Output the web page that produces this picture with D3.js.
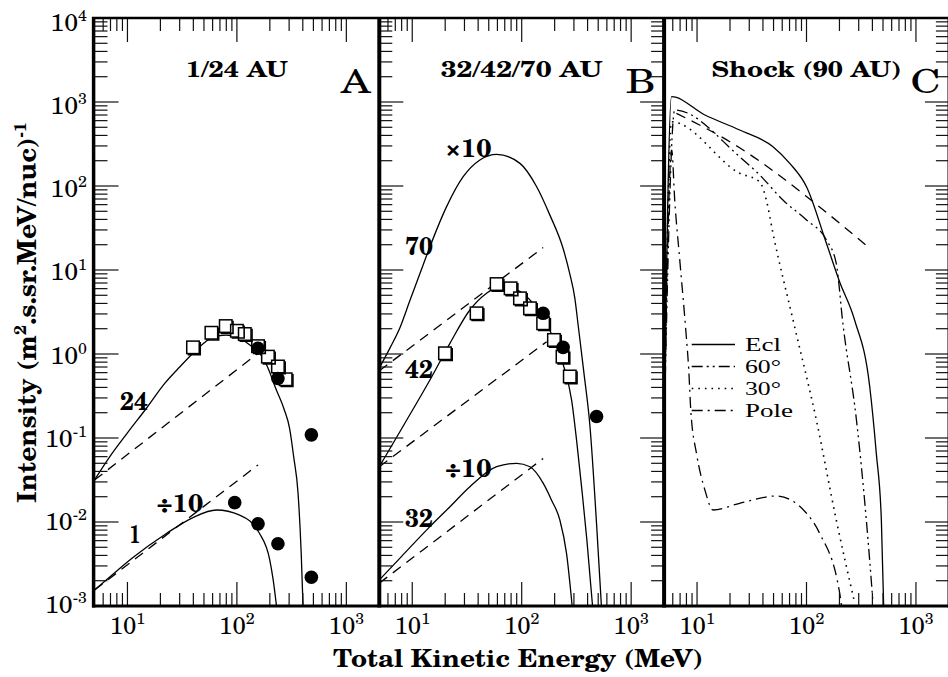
<!DOCTYPE html>
<html><head><meta charset="utf-8">
<script src="https://cdn.jsdelivr.net/npm/d3@7"></script>
<style>body{margin:0;background:#fff}</style>
</head><body>
<svg id="c" width="948" height="677"></svg>
<script>
// ---------------- data ----------------
const yTickExps = [-3,-2,-1,0,1,2,3,4];
const xTickExps = [1,2,3];
const panelTitles = ["1/24 AU","32/42/70 AU","Shock (90 AU)"];
const panelLetters = ["A","B","C"];
const legendLabels = ["Ecl","60°","30°","Pole"];

// Panel A (1 AU and 24 AU)
const a24Curve = [[5,0.0316],[6.9,0.06],[10,0.115],[14.9,0.226],[22,0.45],[30,0.7],[39.7,1.02],[50,1.35],[60.6,1.6],[80,1.68],[106,1.54],[140,1.2],[156,1.08],[186,0.75],[230,0.37],[270,0.22],[303,0.13],[330,0.06],[362,0.022],[387,0.0042],[402,0.001]];
const a24Ref = [[5,0.0316],[156,1.02]];
const a1Curve = [[5,0.00155],[7.94,0.0026],[11.3,0.0038],[22.7,0.0073],[39.7,0.0113],[65,0.0139],[106,0.0121],[161,0.0073],[200,0.0035],[215,0.002],[230,0.001]];
const a1Ref = [[5,0.00155],[156,0.0478]];
const aSquares = [[39.7,1.20],[58.5,1.79],[79.1,2.15],[100,1.89],[118,1.73],[156,1.24],[192,0.93],[237,0.71],[279,0.50]];
const aCircles = [[156,1.17],[237,0.51],[479,0.109],[95.5,0.017],[156,0.0095],[237,0.0055],[479,0.0022]];

// Panel B (32, 42, 70 AU)
const b70Curve = [[5,0.68],[6.3,1.2],[7.7,2.04],[9.5,4.3],[11.8,9.2],[14.5,18.9],[20.6,56.8],[29.2,129],[41.5,204],[59,238],[96.4,186],[137,98],[181,45],[239,18],[275,9],[306,4.6],[328,2.2],[370,0.6],[420,0.14],[483,0.0095],[535,0.001]];
const b70Ref = [[5,0.63],[157,18.5]];
const b42Curve = [[5,0.0455],[8.3,0.14],[14.5,0.49],[22.1,1.34],[33.6,3.34],[47.8,5.3],[63.1,6.3],[89.8,5.8],[127,4.0],[169,2.32],[208,1.22],[248,0.645],[286,0.28],[317,0.095],[355,0.024],[394,0.0061],[424,0.002],[444,0.001]];
const b42Ref = [[5,0.0455],[169,1.40]];
const b32Curve = [[5,0.00204],[8,0.0039],[14.5,0.0088],[22,0.0151],[33.6,0.0263],[59,0.0455],[89.8,0.050],[119,0.0455],[157,0.029],[187,0.0183],[223,0.0106],[257,0.0042],[289,0.001]];
const b32Ref = [[5,0.00187],[157,0.057]];
const bSquares = [[19.9,1.02],[38.7,3.05],[59,6.8],[79.2,6.05],[96.4,4.6],[119,3.5],[157,2.32],[197,1.47],[236,0.93],[275,0.54]];
const bCircles = [[157,3.05],[239,1.2],[483,0.18]];

// Panel C (shock, 90 AU)
const cEcl = [[5,0.12],[5.84,1156],[11.8,700],[24.5,464],[49.4,294],[70.3,186],[100,98],[152,20.8],[201,7.2],[275,2.54],[378,0.41],[434,0.066],[483,0.0106],[507,0.001]];
const c60 = [[5,0.12],[6.25,803],[24.5,223],[37.4,135],[60.9,68],[100,39.4],[152,22.8],[187,12],[215,2.3],[286,0.164],[352,0.0106],[405,0.0011]];
const c30 = [[5,0.12],[5.84,582],[24.5,142],[37.4,112],[43,68],[49.4,27.4],[75.3,2.54],[123,0.164],[187,0.0106],[275,0.0011]];
const cPole = [[5,0.12],[5.87,268],[6.25,68],[6.95,13.2],[7.89,1.93],[8.4,0.645],[8.76,0.215],[9.94,0.063],[11.8,0.024],[14,0.0139],[24.5,0.0167],[53.1,0.0204],[100,0.0127],[132,0.0073],[201,0.00142],[209,0.001]];
const cRef = [[6.48,733],[24.5,285],[49.4,152],[100,75],[201,36],[378,18.1]];

// curve labels: [panel, text, E, I]
const curveLabels = [
  [0,"24",11.5,0.215],[0,"÷10",30.2,0.0133],[0,"1",11.7,0.0056],
  [1,"×10",32.5,223],[1,"70",11.5,15.1],[1,"42",11.5,0.514],[1,"÷10",32.5,0.0346],[1,"32",11.5,0.0088]
];

// ---------------- layout ----------------
const yTop = 18, yBot = 606;
const panelX = [94.5, 379.3, 664.1];
const panelW = 284.8;
const serif = "'TeX Gyre Schola', 'Liberation Serif', serif";
const compactSerif = "'Liberation Serif', serif";

const svg = d3.select("#c");
const y = d3.scaleLog().domain([1e-3,1e4]).range([yBot,yTop]);
const xs = panelX.map(x0 => d3.scaleLog().domain([5,2000]).range([x0, x0+panelW]));

function fit(sel, w){ sel.attr("textLength", w).attr("lengthAdjust","spacingAndGlyphs"); return sel; }
function txt(parent, size, bold){
  return parent.append("text").attr("font-family", serif).attr("font-size", size)
    .attr("font-weight", bold ? "bold" : "normal").attr("fill","#000");
}

const defs = svg.append("defs");
panelX.forEach((x0,i)=>{
  defs.append("clipPath").attr("id","clip"+i).append("rect")
    .attr("x",x0).attr("y",yTop).attr("width",panelW).attr("height",yBot-yTop);
});

function drawLine(i, data, dash, sw){
  const x = xs[i];
  const line = d3.line().x(d=>x(d[0])).y(d=>y(d[1])).curve(d3.curveMonotoneX);
  svg.append("path").attr("clip-path",`url(#clip${i})`)
    .attr("d", line(data)).attr("fill","none").attr("stroke","#000")
    .attr("stroke-width", sw||1.3).attr("stroke-dasharray", dash||null);
}
function drawSquares(i, data){
  const x = xs[i], s = 12.5;
  const g = svg.append("g").attr("clip-path",`url(#clip${i})`);
  g.selectAll("rect").data(data).join("rect")
    .attr("x", d=>x(d[0])-s/2).attr("y", d=>y(d[1])-s/2)
    .attr("width", s).attr("height", s)
    .attr("fill","#fff").attr("stroke","#000").attr("stroke-width",1.5);
  g.selectAll("path").data(data).join("path")
    .attr("d", d=>{const cx=x(d[0]), cy=y(d[1]); return `M${cx+s/2+1},${cy-s/2+1}V${cy+s/2+1}H${cx-s/2+1}`;})
    .attr("fill","none").attr("stroke","#000").attr("stroke-width",1.6);
}
function drawCircles(i, data){
  const x = xs[i];
  svg.append("g").attr("clip-path",`url(#clip${i})`)
    .selectAll("circle").data(data).join("circle")
    .attr("cx", d=>x(d[0])).attr("cy", d=>y(d[1])).attr("r",6.8).attr("fill","#000");
}

const dashed = "10,7";
// Panel A
drawLine(0, a24Ref, dashed); drawLine(0, a1Ref, dashed);
drawLine(0, a24Curve); drawLine(0, a1Curve);
drawSquares(0, aSquares); drawCircles(0, aCircles);
// Panel B
drawLine(1, b70Ref, dashed); drawLine(1, b42Ref, dashed); drawLine(1, b32Ref, dashed);
drawLine(1, b70Curve); drawLine(1, b42Curve); drawLine(1, b32Curve);
drawSquares(1, bSquares); drawCircles(1, bCircles);
// Panel C
const styles = [null, "11,4,2,4,2,4", "1.6,5", "11,5,2,5"];
drawLine(2, cRef, dashed);
[cEcl, c60, c30, cPole].forEach((d,k)=>drawLine(2, d, styles[k], k===2?1.6:1.3));

// legend (panel C)
const lgX0 = 691.7, lgX1 = 735, lgStep = 22, lgY0 = 344.5;
legendLabels.forEach((t,k)=>{
  const ly = lgY0 + k*lgStep;
  svg.append("line").attr("x1",lgX0).attr("x2",lgX1).attr("y1",ly).attr("y2",ly)
    .attr("stroke","#000").attr("stroke-width",k===2?1.6:1.3).attr("stroke-dasharray",styles[k]);
  const tx = svg.append("text").attr("font-family", compactSerif).attr("font-size", 19)
    .attr("fill","#000").attr("x",745).attr("y",ly+6.5).text(t);
  fit(tx, k===3?48:36);
});

// ---------------- axes / frame ----------------
const tickG = svg.append("g").attr("stroke","#111").attr("stroke-width",1.2);
const yTicks = [];
for (let k=-3;k<=4;k++) for (let m=1;m<=9;m++){ const v=m*Math.pow(10,k); if (v<=1e4) yTicks.push({v, major:m===1}); }
const xTicks = [];
for (let k=0;k<=3;k++) for (let m=1;m<=9;m++){ const v=m*Math.pow(10,k); if (v>5 && v<2000) xTicks.push({v, major:m===1}); }
const majL = 24, minL = 13;
function yTickSet(xPos, dir){
  yTicks.forEach(t=>{
    const yy = y(t.v), L = t.major?majL:minL;
    tickG.append("line").attr("x1",xPos).attr("x2",xPos+dir*L).attr("y1",yy).attr("y2",yy);
  });
}
yTickSet(panelX[0], 1);
yTickSet(panelX[1], 1);
yTickSet(panelX[2], -1);
yTickSet(panelX[2]+panelW, -1);
xs.forEach(x=>{
  xTicks.forEach(t=>{
    const xx = x(t.v), L = t.major?majL:minL;
    tickG.append("line").attr("x1",xx).attr("x2",xx).attr("y1",yBot).attr("y2",yBot-L);
    tickG.append("line").attr("x1",xx).attr("x2",xx).attr("y1",yTop).attr("y2",yTop+L);
  });
});

// frame lines
const fr = svg.append("g").attr("stroke","#000");
fr.append("line").attr("x1",92).attr("x2",950).attr("y1",yTop).attr("y2",yTop).attr("stroke-width",2.5);
fr.append("line").attr("x1",92).attr("x2",950).attr("y1",yBot).attr("y2",yBot).attr("stroke-width",3);
[93.6, panelX[1], panelX[2], panelX[2]+panelW+0.6].forEach((xx,k)=>{
  fr.append("line").attr("x1",xx).attr("x2",xx).attr("y1",yTop-1).attr("y2",yBot+1.5).attr("stroke-width", k===0?3.5:4);
});

// y tick labels
yTickExps.forEach(k=>{
  const t = txt(svg, 25, false).attr("x",87).attr("y", y(Math.pow(10,k)) + 13 - (4-k)*0.85)
    .attr("text-anchor","end");
  t.append("tspan").text("10");
  t.append("tspan").attr("dy",-10).attr("font-size",16).text(String(k));
});
// x tick labels
xs.forEach(x=>{
  xTickExps.forEach(k=>{
    const t = txt(svg, 24, false).attr("x", x(Math.pow(10,k))).attr("y", 634)
      .attr("text-anchor","middle");
    t.append("tspan").text("10");
    t.append("tspan").attr("dy",-10).attr("font-size",16).text(String(k));
  });
});

// panel titles and letters
const titleW = [102, 162, 190];
panelTitles.forEach((t,i)=>{
  const tx = txt(svg, 22, true).attr("x", panelX[i]+panelW/2).attr("y",77)
    .attr("text-anchor","middle").text(t);
  fit(tx, titleW[i]);
  const lt = txt(svg, 33, false).attr("x", panelX[i]+panelW-8.5).attr("y",93)
    .attr("text-anchor","end").text(panelLetters[i]);
  fit(lt, 30);
});

// curve labels
curveLabels.forEach(([i,t,E,I])=>{
  const tx = txt(svg, 25, true).attr("x", xs[i](E)).attr("y", y(I))
    .attr("text-anchor","middle").text(t);
  fit(tx, t.length===1?11:(t.length===2?28:46.7));
});

// axis titles
const xt = txt(svg, 24.5, true).attr("x",518).attr("y",667).attr("text-anchor","middle")
  .text("Total Kinetic Energy (MeV)");
fit(xt, 370);

const yt = txt(svg, 26, true).attr("transform","translate(36,312.5) rotate(-90)")
  .attr("text-anchor","middle");
yt.append("tspan").text("Intensity (m");
yt.append("tspan").attr("dy",-10).attr("font-size",17).text("2");
yt.append("tspan").attr("dy",10).text(".s.sr.MeV/nuc)");
yt.append("tspan").attr("dy",-10).attr("font-size",17).text("-1");
fit(yt, 381);
</script>
</body></html>
